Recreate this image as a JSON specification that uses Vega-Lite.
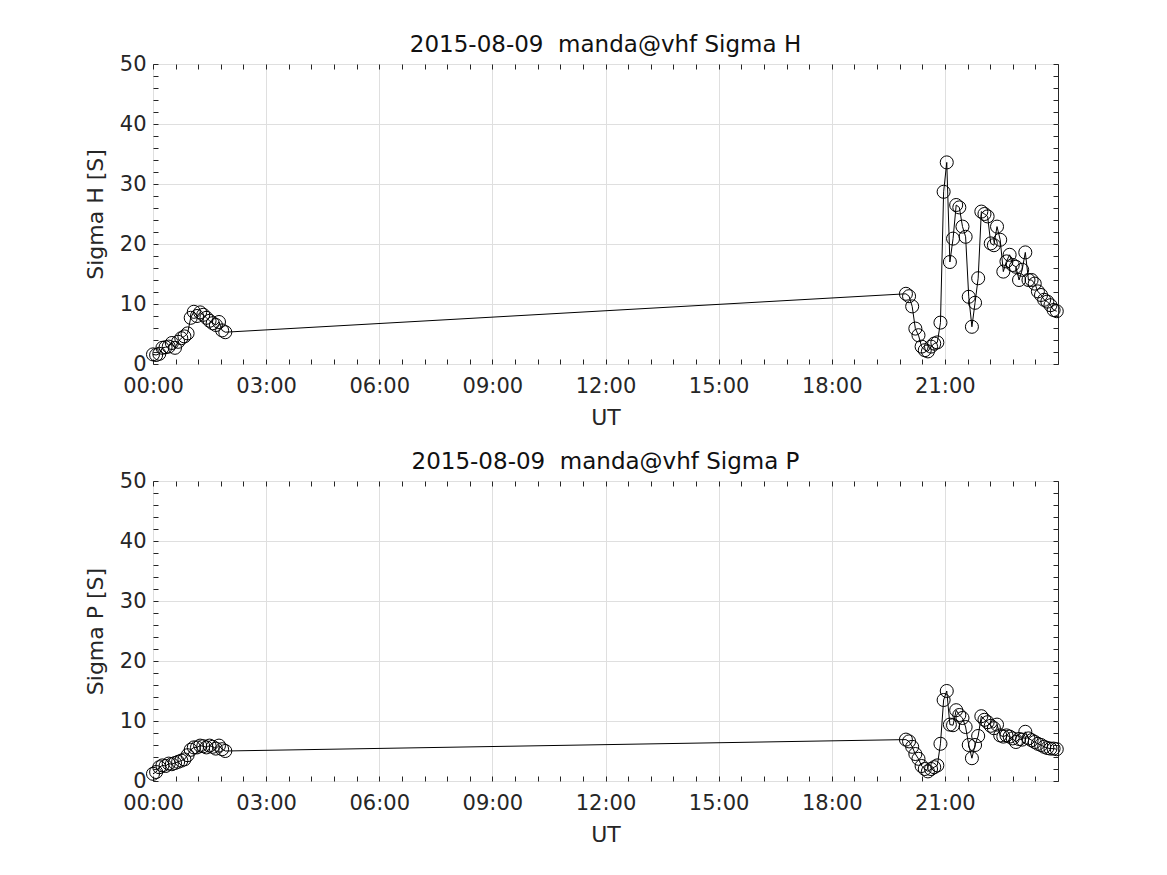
{
  "$schema": "https://vega.github.io/schema/vega-lite/v6.json",
  "padding": {"left": 83, "top": 33, "right": 5, "bottom": 5},
  "background": "white",
  "data": {"values": [
    {"ut": 0.0, "sigma_h": 1.6, "sigma_p": 1.2},
    {"ut": 0.083, "sigma_h": 1.5, "sigma_p": 1.5},
    {"ut": 0.167, "sigma_h": 1.7, "sigma_p": 2.3},
    {"ut": 0.25, "sigma_h": 2.7, "sigma_p": 2.6},
    {"ut": 0.333, "sigma_h": 2.8, "sigma_p": 2.5},
    {"ut": 0.417, "sigma_h": 2.9, "sigma_p": 2.9},
    {"ut": 0.5, "sigma_h": 3.5, "sigma_p": 2.8},
    {"ut": 0.583, "sigma_h": 2.7, "sigma_p": 3.0},
    {"ut": 0.667, "sigma_h": 3.7, "sigma_p": 3.2},
    {"ut": 0.75, "sigma_h": 4.3, "sigma_p": 3.4},
    {"ut": 0.833, "sigma_h": 4.6, "sigma_p": 3.6},
    {"ut": 0.917, "sigma_h": 5.1, "sigma_p": 4.3},
    {"ut": 1.0, "sigma_h": 7.7, "sigma_p": 5.2},
    {"ut": 1.083, "sigma_h": 8.7, "sigma_p": 5.6},
    {"ut": 1.167, "sigma_h": 8.0, "sigma_p": 5.6},
    {"ut": 1.25, "sigma_h": 8.6, "sigma_p": 5.9},
    {"ut": 1.333, "sigma_h": 8.2, "sigma_p": 5.8},
    {"ut": 1.417, "sigma_h": 7.7, "sigma_p": 5.6},
    {"ut": 1.5, "sigma_h": 7.2, "sigma_p": 5.9},
    {"ut": 1.583, "sigma_h": 6.8, "sigma_p": 5.7},
    {"ut": 1.667, "sigma_h": 6.5, "sigma_p": 5.4},
    {"ut": 1.75, "sigma_h": 7.0, "sigma_p": 5.9},
    {"ut": 1.833, "sigma_h": 5.6, "sigma_p": 5.3},
    {"ut": 1.917, "sigma_h": 5.3, "sigma_p": 5.0},
    {"ut": 19.967, "sigma_h": 11.7, "sigma_p": 6.9},
    {"ut": 20.05, "sigma_h": 11.3, "sigma_p": 6.6},
    {"ut": 20.133, "sigma_h": 9.6, "sigma_p": 5.7},
    {"ut": 20.217, "sigma_h": 5.9, "sigma_p": 4.5},
    {"ut": 20.3, "sigma_h": 4.8, "sigma_p": 3.7},
    {"ut": 20.383, "sigma_h": 2.9, "sigma_p": 2.5},
    {"ut": 20.467, "sigma_h": 2.3, "sigma_p": 2.0},
    {"ut": 20.55, "sigma_h": 2.1, "sigma_p": 1.6},
    {"ut": 20.633, "sigma_h": 2.9, "sigma_p": 2.0},
    {"ut": 20.717, "sigma_h": 3.4, "sigma_p": 2.3},
    {"ut": 20.8, "sigma_h": 3.6, "sigma_p": 2.6},
    {"ut": 20.883, "sigma_h": 6.9, "sigma_p": 6.2},
    {"ut": 20.967, "sigma_h": 28.7, "sigma_p": 13.5},
    {"ut": 21.05, "sigma_h": 33.6, "sigma_p": 15.0},
    {"ut": 21.133, "sigma_h": 17.0, "sigma_p": 9.4},
    {"ut": 21.217, "sigma_h": 20.9, "sigma_p": 9.3},
    {"ut": 21.3, "sigma_h": 26.5, "sigma_p": 11.8},
    {"ut": 21.383, "sigma_h": 26.1, "sigma_p": 11.0},
    {"ut": 21.467, "sigma_h": 22.9, "sigma_p": 10.5},
    {"ut": 21.55, "sigma_h": 21.2, "sigma_p": 9.0},
    {"ut": 21.633, "sigma_h": 11.2, "sigma_p": 6.0},
    {"ut": 21.717, "sigma_h": 6.2, "sigma_p": 3.8},
    {"ut": 21.8, "sigma_h": 10.2, "sigma_p": 6.0},
    {"ut": 21.883, "sigma_h": 14.3, "sigma_p": 7.5},
    {"ut": 21.967, "sigma_h": 25.4, "sigma_p": 10.8},
    {"ut": 22.05, "sigma_h": 25.0, "sigma_p": 10.2},
    {"ut": 22.133, "sigma_h": 24.6, "sigma_p": 9.8},
    {"ut": 22.217, "sigma_h": 20.1, "sigma_p": 9.2},
    {"ut": 22.3, "sigma_h": 19.8, "sigma_p": 8.8},
    {"ut": 22.383, "sigma_h": 22.9, "sigma_p": 9.4},
    {"ut": 22.467, "sigma_h": 20.7, "sigma_p": 7.6},
    {"ut": 22.55, "sigma_h": 15.4, "sigma_p": 7.4},
    {"ut": 22.633, "sigma_h": 17.1, "sigma_p": 7.6},
    {"ut": 22.717, "sigma_h": 18.2, "sigma_p": 7.4},
    {"ut": 22.8, "sigma_h": 16.5, "sigma_p": 7.1},
    {"ut": 22.883, "sigma_h": 16.2, "sigma_p": 6.5},
    {"ut": 22.967, "sigma_h": 14.0, "sigma_p": 7.0},
    {"ut": 23.05, "sigma_h": 15.7, "sigma_p": 6.9},
    {"ut": 23.133, "sigma_h": 18.6, "sigma_p": 8.2},
    {"ut": 23.217, "sigma_h": 14.0, "sigma_p": 7.1},
    {"ut": 23.3, "sigma_h": 14.0, "sigma_p": 6.8},
    {"ut": 23.383, "sigma_h": 13.4, "sigma_p": 6.5},
    {"ut": 23.467, "sigma_h": 12.1, "sigma_p": 6.2},
    {"ut": 23.55, "sigma_h": 11.5, "sigma_p": 6.0},
    {"ut": 23.633, "sigma_h": 10.7, "sigma_p": 5.7},
    {"ut": 23.717, "sigma_h": 10.4, "sigma_p": 5.5},
    {"ut": 23.8, "sigma_h": 9.8, "sigma_p": 5.4},
    {"ut": 23.883, "sigma_h": 9.0, "sigma_p": 5.4},
    {"ut": 23.967, "sigma_h": 8.8, "sigma_p": 5.3}
  ]},
  "spacing": 21,
  "vconcat": [
    {
      "width": 905, "height": 300,
      "title": {"text": "2015-08-09 \u00a0manda@vhf Sigma H"},
      "layer": [
        {
          "mark": {"type": "line", "color": "#000000", "strokeWidth": 1},
          "encoding": {
            "x": {"field": "ut", "type": "quantitative", "scale": {"domain": [0, 24], "nice": false, "zero": false},
              "axis": {"orient": "bottom", "values": [0, 3, 6, 9, 12, 15, 18, 21], "labelExpr": "(datum.value < 10 ? '0' : '') + datum.value + ':00'", "labelFlush": false, "grid": true, "ticks": false, "domain": false, "labelPadding": 11, "title": "UT", "titlePadding": 11}},
            "y": {"field": "sigma_h", "type": "quantitative", "scale": {"domain": [0, 50], "nice": false},
              "axis": {"orient": "left", "values": [0, 10, 20, 30, 40, 50], "labelFlush": false, "grid": true, "ticks": false, "domain": false, "labelPadding": 7, "title": "Sigma H [S]", "titlePadding": 12}}
          }
        },
        {
          "mark": {"type": "point", "shape": "circle", "filled": false, "color": "#000000", "size": 170, "strokeWidth": 1, "opacity": 1},
          "encoding": {
            "x": {"field": "ut", "type": "quantitative",
              "axis": {"orient": "bottom", "values": [0, 0.6, 1.2, 1.8, 2.4, 3, 3.6, 4.2, 4.8, 5.4, 6, 6.6, 7.2, 7.8, 8.4, 9, 9.6, 10.2, 10.8, 11.4, 12, 12.6, 13.2, 13.8, 14.4, 15, 15.6, 16.2, 16.8, 17.4, 18, 18.6, 19.2, 19.8, 20.4, 21, 21.6, 22.2, 22.8, 23.4, 24], "labels": false, "grid": false, "domain": false, "tickSize": 5, "offset": -5, "title": null}},
            "y": {"field": "sigma_h", "type": "quantitative",
              "axis": {"orient": "left", "values": [0, 2, 4, 6, 8, 10, 12, 14, 16, 18, 20, 22, 24, 26, 28, 30, 32, 34, 36, 38, 40, 42, 44, 46, 48, 50], "labels": false, "grid": false, "domain": false, "tickSize": 5, "offset": -5, "title": null}}
          }
        },
        {
          "mark": {"type": "point", "opacity": 0},
          "encoding": {
            "x": {"field": "ut", "type": "quantitative",
              "axis": {"orient": "top", "values": [0, 0.6, 1.2, 1.8, 2.4, 3, 3.6, 4.2, 4.8, 5.4, 6, 6.6, 7.2, 7.8, 8.4, 9, 9.6, 10.2, 10.8, 11.4, 12, 12.6, 13.2, 13.8, 14.4, 15, 15.6, 16.2, 16.8, 17.4, 18, 18.6, 19.2, 19.8, 20.4, 21, 21.6, 22.2, 22.8, 23.4, 24], "labels": false, "grid": false, "domain": false, "tickSize": 5, "offset": -5, "title": null}},
            "y": {"field": "sigma_h", "type": "quantitative",
              "axis": {"orient": "right", "values": [0, 2, 4, 6, 8, 10, 12, 14, 16, 18, 20, 22, 24, 26, 28, 30, 32, 34, 36, 38, 40, 42, 44, 46, 48, 50], "labels": false, "grid": false, "domain": false, "tickSize": 5, "offset": -5, "title": null}}
          }
        }
      ],
      "resolve": {"axis": {"x": "independent", "y": "independent"}}
    },
    {
      "width": 905, "height": 300,
      "title": {"text": "2015-08-09 \u00a0manda@vhf Sigma P"},
      "layer": [
        {
          "mark": {"type": "line", "color": "#000000", "strokeWidth": 1},
          "encoding": {
            "x": {"field": "ut", "type": "quantitative", "scale": {"domain": [0, 24], "nice": false, "zero": false},
              "axis": {"orient": "bottom", "values": [0, 3, 6, 9, 12, 15, 18, 21], "labelExpr": "(datum.value < 10 ? '0' : '') + datum.value + ':00'", "labelFlush": false, "grid": true, "ticks": false, "domain": false, "labelPadding": 11, "title": "UT", "titlePadding": 11}},
            "y": {"field": "sigma_p", "type": "quantitative", "scale": {"domain": [0, 50], "nice": false},
              "axis": {"orient": "left", "values": [0, 10, 20, 30, 40, 50], "labelFlush": false, "grid": true, "ticks": false, "domain": false, "labelPadding": 7, "title": "Sigma P [S]", "titlePadding": 12}}
          }
        },
        {
          "mark": {"type": "point", "shape": "circle", "filled": false, "color": "#000000", "size": 170, "strokeWidth": 1, "opacity": 1},
          "encoding": {
            "x": {"field": "ut", "type": "quantitative",
              "axis": {"orient": "bottom", "values": [0, 0.6, 1.2, 1.8, 2.4, 3, 3.6, 4.2, 4.8, 5.4, 6, 6.6, 7.2, 7.8, 8.4, 9, 9.6, 10.2, 10.8, 11.4, 12, 12.6, 13.2, 13.8, 14.4, 15, 15.6, 16.2, 16.8, 17.4, 18, 18.6, 19.2, 19.8, 20.4, 21, 21.6, 22.2, 22.8, 23.4, 24], "labels": false, "grid": false, "domain": false, "tickSize": 5, "offset": -5, "title": null}},
            "y": {"field": "sigma_p", "type": "quantitative",
              "axis": {"orient": "left", "values": [0, 2, 4, 6, 8, 10, 12, 14, 16, 18, 20, 22, 24, 26, 28, 30, 32, 34, 36, 38, 40, 42, 44, 46, 48, 50], "labels": false, "grid": false, "domain": false, "tickSize": 5, "offset": -5, "title": null}}
          }
        },
        {
          "mark": {"type": "point", "opacity": 0},
          "encoding": {
            "x": {"field": "ut", "type": "quantitative",
              "axis": {"orient": "top", "values": [0, 0.6, 1.2, 1.8, 2.4, 3, 3.6, 4.2, 4.8, 5.4, 6, 6.6, 7.2, 7.8, 8.4, 9, 9.6, 10.2, 10.8, 11.4, 12, 12.6, 13.2, 13.8, 14.4, 15, 15.6, 16.2, 16.8, 17.4, 18, 18.6, 19.2, 19.8, 20.4, 21, 21.6, 22.2, 22.8, 23.4, 24], "labels": false, "grid": false, "domain": false, "tickSize": 5, "offset": -5, "title": null}},
            "y": {"field": "sigma_p", "type": "quantitative",
              "axis": {"orient": "right", "values": [0, 2, 4, 6, 8, 10, 12, 14, 16, 18, 20, 22, 24, 26, 28, 30, 32, 34, 36, 38, 40, 42, 44, 46, 48, 50], "labels": false, "grid": false, "domain": false, "tickSize": 5, "offset": -5, "title": null}}
          }
        }
      ],
      "resolve": {"axis": {"x": "independent", "y": "independent"}}
    }
  ],
  "config": {
    "view": {"stroke": "#262626", "strokeWidth": 1},
    "axis": {"labelFont": "DejaVu Sans", "labelFontSize": 21, "labelColor": "#262626", "titleFont": "DejaVu Sans", "titleFontSize": 22, "titleFontWeight": "normal", "titleColor": "#262626", "tickColor": "#262626", "gridColor": "#dfdfdf", "gridWidth": 1},
    "title": {"font": "DejaVu Sans", "fontSize": 23, "fontWeight": "normal", "color": "#111111", "offset": -4, "anchor": "middle"}
  }
}
